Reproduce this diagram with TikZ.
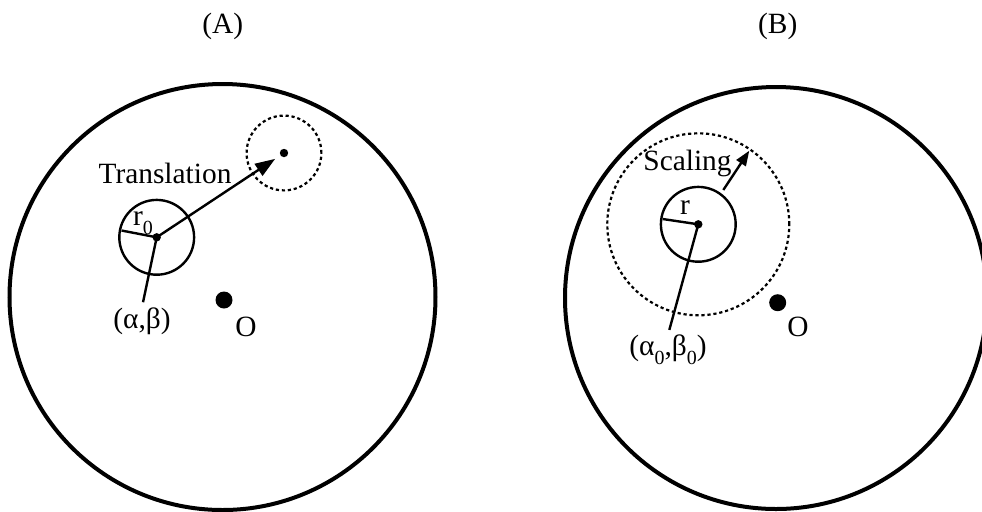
\documentclass[tikz,border=0pt]{standalone}
\usepackage{fontspec}
\setmainfont{Liberation Serif}
\usetikzlibrary{arrows.meta}
\newcommand\lowsub[1]{\raisebox{-0.3em}{\fontsize{10}{10}\selectfont #1}}
\begin{document}
\begin{tikzpicture}[x=0.5pt,y=-0.5pt,
 big/.style={line width=2pt},
 small/.style={line width=1.2pt},
 dashcirc/.style={line width=1.1pt, dash pattern=on 1.6pt off 1.4pt},
 cdot/.style={circle, fill, inner sep=0pt, minimum size=4.2pt},
 odot/.style={circle, fill, inner sep=0pt, minimum size=8.5pt},
 lbl/.style={font=\fontsize{14.7}{17}\selectfont, inner sep=0pt},
 arr/.style={small, -{Triangle[length=10pt,width=7pt]}},
 arrs/.style={small, -{Triangle[length=7.5pt,width=5.5pt]}}
]
\useasboundingbox (0,0) rectangle (982,511);
\begin{scope}
\clip (0,0) rectangle (982,511);
\draw[big] (222.5,297) circle[radius=106.5pt];
\draw[big] (776,298) circle[radius=105.5pt];
\end{scope}
% titles
\node[lbl] (tA) at (222.7,26.7) {(A)};
\node[lbl] (tB) at (777.7,26.5) {(B)};
% panel A
\node[cdot] (cA) at (156.7,237.3) {};
\draw[small] (cA.center) circle[radius=18.7pt];
\node[cdot] (gA) at (284,153) {};
\draw[dashcirc] (gA.center) circle[radius=18.7pt];
\coordinate (rA) at (121.5,230.5);
\draw[small] (cA.center) -- (rA);
\node[lbl] (rlA) at (143,223) {r\lowsub{0}};
\draw[arr, shorten >=3pt] (cA.center) -- (gA);
\node[lbl] (trans) at (165,173) {Translation};
\node[lbl] (abA) at (142,321) {(α,β)};
\draw[small, shorten >=2.5pt] (cA.center) -- (abA.north);
\node[odot] (OA) at (224,300) {};
\node[lbl] (OlA) at (246,327) {O};
% panel B
\node[cdot] (cB) at (698.3,224.3) {};
\draw[small] (cB.center) circle[radius=18.7pt];
\draw[dashcirc] (cB.center) circle[radius=45.5pt];
\coordinate (rB) at (662.7,219);
\draw[small] (cB.center) -- (rB);
\node[lbl] (rlB) at (685,208) {r};
\coordinate (sB) at (723.3,190);
\coordinate (eB) at (749.3,150.7);
\draw[arrs] (sB) -- (eB);
\node[lbl] (scal) at (687.5,163) {Scaling};
\node[lbl] (abB) at (668,350) {(α\lowsub{0},β\lowsub{0})};
\draw[small, shorten >=2.5pt] (cB.center) -- (abB.north);
\node[odot] (OB) at (777.7,302.7) {};
\node[lbl] (OlB) at (798,327) {O};
\end{tikzpicture}
\end{document}
